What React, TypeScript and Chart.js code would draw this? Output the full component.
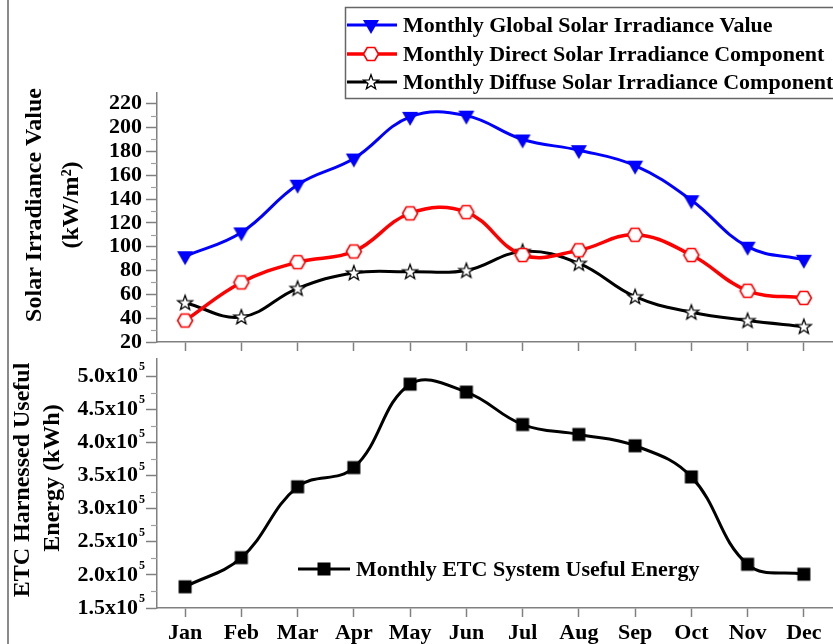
import React, { useEffect, useRef } from 'react';
import { Chart, registerables } from 'chart.js';

Chart.register(...registerables);

// ---- data ----
const months = ['Jan', 'Feb', 'Mar', 'Apr', 'May', 'Jun', 'Jul', 'Aug', 'Sep', 'Oct', 'Nov', 'Dec'];
const globalIrradiance = [92, 112, 152, 174, 209, 210, 190, 181, 168, 139, 100, 89];
const directIrradiance = [38, 70, 87, 96, 128, 129, 93, 97, 110, 93, 63, 57];
const diffuseIrradiance = [53, 41, 65, 78, 79, 80, 96, 86, 58, 45, 38, 33];
const etcUsefulEnergy = [182000, 226000, 333000, 362000, 488000, 476000, 427000, 412000, 395000, 348000, 216000, 201000];
const irradianceTicks = [20, 40, 60, 80, 100, 120, 140, 160, 180, 200, 220];
const energyTicks = [150000, 200000, 250000, 300000, 350000, 400000, 450000, 500000];
const energyExponent = '5';

const seriesLabels = [
  'Monthly Global Solar Irradiance Value',
  'Monthly Direct Solar Irradiance Component',
  'Monthly Diffuse Solar Irradiance Component',
];
const energyLabel = 'Monthly ETC System Useful Energy';
const topTitle = ['Solar Irradiance Value', '(kW/m²)'];
const bottomTitle = ['ETC Harnessed Useful', 'Energy (kWh)'];

const FONT = "'Liberation Serif', 'Times New Roman', serif";
const AXIS = '#808080';

function makeMarker(size: number, draw: (ctx: CanvasRenderingContext2D, m: number) => void) {
  const c = document.createElement('canvas');
  c.width = size;
  c.height = size;
  const ctx = c.getContext('2d') as CanvasRenderingContext2D;
  draw(ctx, size / 2);
  return c;
}

function createMarkers() {
  const tri = makeMarker(20, (ctx, m) => {
    ctx.fillStyle = '#0000ff';
    ctx.beginPath();
    ctx.moveTo(m - 8, m - 5);
    ctx.lineTo(m + 8, m - 5);
    ctx.lineTo(m, m + 9);
    ctx.closePath();
    ctx.fill();
  });
  const hex = makeMarker(20, (ctx, m) => {
    ctx.beginPath();
    for (let i = 0; i < 6; i++) {
      const a = (i * Math.PI) / 3;
      const x = m + 7.5 * Math.cos(a);
      const y = m + 7.5 * Math.sin(a);
      if (i === 0) ctx.moveTo(x, y);
      else ctx.lineTo(x, y);
    }
    ctx.closePath();
    ctx.fillStyle = '#ffffff';
    ctx.fill();
    ctx.strokeStyle = '#ff0000';
    ctx.lineWidth = 1.6;
    ctx.stroke();
  });
  const star = makeMarker(20, (ctx, m) => {
    ctx.beginPath();
    for (let i = 0; i < 10; i++) {
      const r = i % 2 ? 3.2 : 7.8;
      const a = -Math.PI / 2 + (i * Math.PI) / 5;
      const x = m + r * Math.cos(a);
      const y = m + 0.5 + r * Math.sin(a);
      if (i === 0) ctx.moveTo(x, y);
      else ctx.lineTo(x, y);
    }
    ctx.closePath();
    ctx.fillStyle = '#ffffff';
    ctx.fill();
    ctx.strokeStyle = '#000000';
    ctx.lineWidth = 1.3;
    ctx.stroke();
  });
  const sq = makeMarker(16, (ctx, m) => {
    ctx.fillStyle = '#000000';
    ctx.fillRect(m - 6.5, m - 6.5, 13, 13);
  });
  return { tri, hex, star, sq };
}

function drawMinorTicks(chart: any) {
  const ys = chart.scales.y;
  const ctx = chart.ctx as CanvasRenderingContext2D;
  const ticks = ys.ticks;
  ctx.save();
  ctx.strokeStyle = '#a0a0a0';
  ctx.lineWidth = 1.2;
  for (let i = 0; i < ticks.length - 1; i++) {
    const mid = (ticks[i].value + ticks[i + 1].value) / 2;
    const py = Math.round(ys.getPixelForValue(mid)) + 0.5;
    ctx.beginPath();
    ctx.moveTo(ys.right - 6, py);
    ctx.lineTo(ys.right, py);
    ctx.stroke();
  }
  ctx.restore();
}

function drawRotatedTitle(ctx: CanvasRenderingContext2D, text: string, x: number, y: number) {
  ctx.save();
  ctx.translate(x, y);
  ctx.rotate(-Math.PI / 2);
  ctx.font = `bold 24px ${FONT}`;
  ctx.fillStyle = '#000';
  ctx.textAlign = 'center';
  ctx.textBaseline = 'middle';
  ctx.fillText(text, 0, 0);
  ctx.restore();
}

export default function App() {
  const topRef = useRef<HTMLCanvasElement | null>(null);
  const botRef = useRef<HTMLCanvasElement | null>(null);

  useEffect(() => {
    const mk = createMarkers();
    const tickFont = { family: FONT, size: 22, weight: 'bold' as const };
    const gridOpts = (len: number) => ({
      display: true,
      drawOnChartArea: false,
      drawTicks: true,
      tickLength: len,
      tickColor: AXIS,
      tickWidth: 1.5,
      offset: false,
    });
    const fitY = (s: any) => {
      s.width = 157;
      s.paddingTop = 0;
      s.paddingBottom = 0;
    };

    const topPlugin = {
      id: 'topDecor',
      afterDraw(chart: any) {
        drawMinorTicks(chart);
        const ctx = chart.ctx as CanvasRenderingContext2D;
        drawRotatedTitle(ctx, topTitle[0], 35, 205);
        drawRotatedTitle(ctx, topTitle[1], 72, 205);
        // legend box
        ctx.save();
        ctx.fillStyle = '#ffffff';
        ctx.fillRect(345, 7, 500, 92);
        ctx.strokeStyle = '#666666';
        ctx.lineWidth = 1.5;
        ctx.strokeRect(345.5, 7.5, 500, 91);
        const rows = [
          { y: 25, color: '#0000ff', w: 3, img: mk.tri },
          { y: 54, color: '#ff0000', w: 3.5, img: mk.hex },
          { y: 82, color: '#000000', w: 3, img: mk.star },
        ];
        rows.forEach((r, i) => {
          ctx.strokeStyle = r.color;
          ctx.lineWidth = r.w;
          ctx.beginPath();
          ctx.moveTo(347, r.y);
          ctx.lineTo(397, r.y);
          ctx.stroke();
          ctx.drawImage(r.img, 371 - r.img.width / 2, r.y - r.img.height / 2);
          ctx.fillStyle = '#000';
          ctx.font = `bold 22px ${FONT}`;
          ctx.textAlign = 'left';
          ctx.textBaseline = 'middle';
          ctx.fillText(seriesLabels[i], 403, r.y + 1);
        });
        ctx.restore();
      },
    };

    const botPlugin = {
      id: 'botDecor',
      afterDraw(chart: any) {
        drawMinorTicks(chart);
        const ctx = chart.ctx as CanvasRenderingContext2D;
        // superscript exponent after each energy tick label
        const ys = chart.scales.y;
        ctx.save();
        ctx.fillStyle = '#000';
        ctx.font = `bold 12px ${FONT}`;
        ctx.textAlign = 'left';
        ctx.textBaseline = 'middle';
        ys.ticks.forEach((t: any) => {
          const py = ys.getPixelForValue(t.value);
          ctx.fillText(energyExponent, ys.right - 18, py - 9);
        });
        ctx.restore();

        drawRotatedTitle(ctx, bottomTitle[0], 23, 125);
        drawRotatedTitle(ctx, bottomTitle[1], 53, 123);
        ctx.save();
        const ly = 214;
        ctx.strokeStyle = '#000';
        ctx.lineWidth = 3;
        ctx.beginPath();
        ctx.moveTo(298, ly);
        ctx.lineTo(350, ly);
        ctx.stroke();
        ctx.drawImage(mk.sq, 324 - mk.sq.width / 2, ly - mk.sq.height / 2);
        ctx.fillStyle = '#000';
        ctx.font = `bold 22px ${FONT}`;
        ctx.textAlign = 'left';
        ctx.textBaseline = 'middle';
        ctx.fillText(energyLabel, 356, ly + 1);
        ctx.restore();
      },
    };

    const topChart = new Chart(topRef.current as HTMLCanvasElement, {
      type: 'line',
      data: {
        labels: months,
        datasets: [
          {
            label: seriesLabels[0],
            data: globalIrradiance,
            borderColor: '#0000ff',
            borderWidth: 3,
            pointStyle: mk.tri as any,
            pointRadius: 8,
            tension: 0.4,
          },
          {
            label: seriesLabels[1],
            data: directIrradiance,
            borderColor: '#ff0000',
            borderWidth: 3.5,
            pointStyle: mk.hex as any,
            pointRadius: 8,
            tension: 0.4,
          },
          {
            label: seriesLabels[2],
            data: diffuseIrradiance,
            borderColor: '#000000',
            borderWidth: 3,
            pointStyle: mk.star as any,
            pointRadius: 8,
            tension: 0.4,
          },
        ],
      },
      options: {
        responsive: false,
        animation: false,
        events: [],
        layout: { autoPadding: false, padding: { top: 93, right: 1, left: 0, bottom: 0 } },
        plugins: { legend: { display: false }, tooltip: { enabled: false } },
        scales: {
          x: {
            offset: true,
            grid: gridOpts(9),
            border: { color: AXIS, width: 1.5 },
            ticks: { display: false },
            afterFit: (s: any) => {
              s.height = 18;
              s.paddingLeft = 0;
              s.paddingRight = 0;
            },
          },
          y: {
            min: 20,
            max: 229,
            afterBuildTicks: (s: any) => {
              s.ticks = irradianceTicks.map((v) => ({ value: v }));
            },
            grid: gridOpts(11),
            border: { color: AXIS, width: 1.5 },
            ticks: { font: tickFont, color: '#000', padding: 4, autoSkip: false },
            afterFit: fitY,
          },
        },
      },
      plugins: [topPlugin],
    });

    const botChart = new Chart(botRef.current as HTMLCanvasElement, {
      type: 'line',
      data: {
        labels: months,
        datasets: [
          {
            label: energyLabel,
            data: etcUsefulEnergy,
            borderColor: '#000000',
            borderWidth: 3,
            pointStyle: mk.sq as any,
            pointRadius: 8,
            tension: 0.4,
          },
        ],
      },
      options: {
        responsive: false,
        animation: false,
        events: [],
        layout: { autoPadding: false, padding: { top: 4, right: 1, left: 0, bottom: 0 } },
        plugins: { legend: { display: false }, tooltip: { enabled: false } },
        scales: {
          x: {
            offset: true,
            grid: gridOpts(9),
            border: { color: AXIS, width: 1.5 },
            ticks: { font: { family: FONT, size: 22, weight: 'bold' }, color: '#000', padding: 3, maxRotation: 0, autoSkip: false },
            afterFit: (s: any) => {
              s.height = 36;
              s.paddingLeft = 0;
              s.paddingRight = 0;
            },
          },
          y: {
            min: 150000,
            max: 526000,
            afterBuildTicks: (s: any) => {
              s.ticks = energyTicks.map((v) => ({ value: v }));
            },
            grid: gridOpts(11),
            border: { color: AXIS, width: 1.5 },
            ticks: {
              font: tickFont,
              color: '#000',
              padding: 8,
              autoSkip: false,
              callback: (v: any) => (Number(v) / 100000).toFixed(1) + 'x10',
            },
            afterFit: fitY,
          },
        },
      },
      plugins: [botPlugin],
    });

    return () => {
      topChart.destroy();
      botChart.destroy();
    };
  }, []);

  return (
    <div style={{ position: 'absolute', left: 0, top: 0, width: 833, height: 644, background: '#fff', overflow: 'hidden' }}>
      <div style={{ position: 'absolute', left: 7, top: 0, width: 2, height: 644, background: '#8a8a8a' }} />
      <canvas ref={topRef} width={833} height={360} style={{ position: 'absolute', left: 0, top: 0, width: 833, height: 360 }} />
      <canvas ref={botRef} width={833} height={289} style={{ position: 'absolute', left: 0, top: 355, width: 833, height: 289 }} />
    </div>
  );
}
